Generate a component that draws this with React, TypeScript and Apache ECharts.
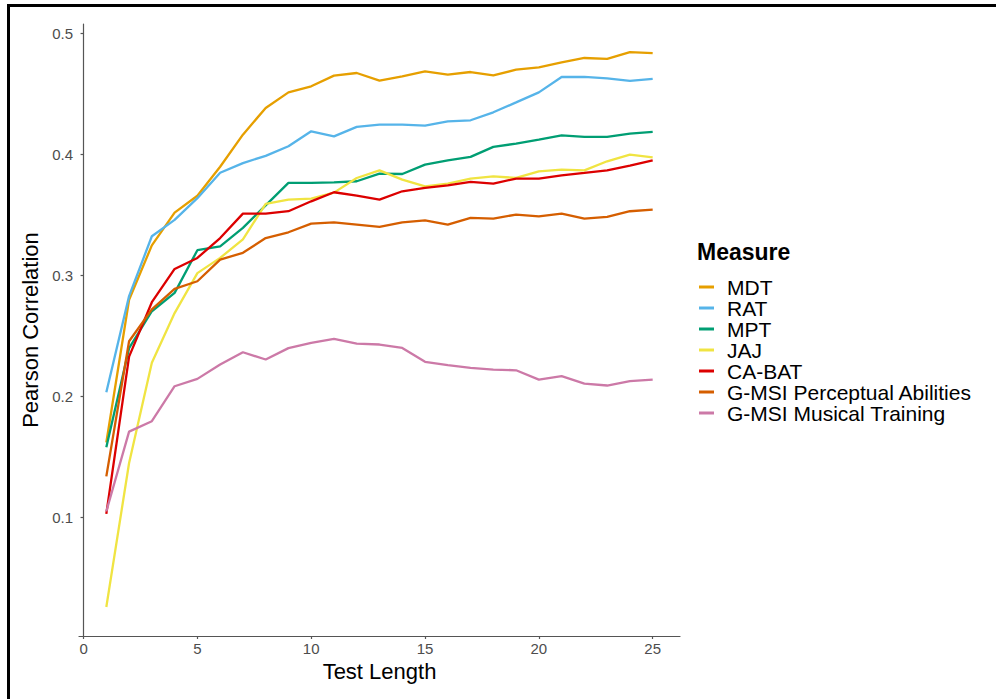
import React, { useEffect, useRef } from "react";
import * as echarts from "echarts";

const testLength = [1, 2, 3, 4, 5, 6, 7, 8, 9, 10, 11, 12, 13, 14, 15, 16, 17, 18, 19, 20, 21, 22, 23, 24, 25];

const measures = ["MDT", "RAT", "MPT", "JAJ", "CA-BAT", "G-MSI Perceptual Abilities", "G-MSI Musical Training"];
const colors = ["#E69F00", "#56B4E9", "#009E73", "#F0E442", "#DC0000", "#D55E00", "#CC79A7"];

const mdt = [0.162, 0.280, 0.325, 0.352, 0.366, 0.390, 0.4165, 0.4386, 0.4515, 0.4565, 0.4653, 0.4675, 0.4612, 0.4647, 0.4689, 0.4661, 0.4683, 0.4656, 0.4702, 0.4722, 0.4763, 0.4799, 0.4791, 0.4848, 0.484];
const rat = [0.2035, 0.283, 0.3325, 0.346, 0.364, 0.385, 0.393, 0.399, 0.4069, 0.4193, 0.4151, 0.4229, 0.4248, 0.4248, 0.424, 0.4275, 0.4284, 0.435, 0.4432, 0.4515, 0.4642, 0.4642, 0.4631, 0.4609, 0.4626];
const mpt = [0.158, 0.240, 0.2705, 0.2857, 0.321, 0.3242, 0.3394, 0.358, 0.3766, 0.3766, 0.3771, 0.378, 0.3843, 0.384, 0.3917, 0.3953, 0.3981, 0.4064, 0.4091, 0.4124, 0.416, 0.4146, 0.4146, 0.4174, 0.4188];
const jaj = [0.026, 0.145, 0.228, 0.269, 0.302, 0.3146, 0.330, 0.3592, 0.3628, 0.3636, 0.3686, 0.3807, 0.387, 0.3793, 0.3738, 0.376, 0.3802, 0.3821, 0.3807, 0.3862, 0.3876, 0.387, 0.3945, 0.400, 0.3978];
const cabat = [0.103, 0.233, 0.278, 0.3055, 0.3146, 0.331, 0.3512, 0.3512, 0.3532, 0.3614, 0.3689, 0.3661, 0.3628, 0.3697, 0.3725, 0.3745, 0.3774, 0.376, 0.3802, 0.3802, 0.3829, 0.3849, 0.387, 0.3909, 0.3953];
const gmsiPA = [0.134, 0.2457, 0.272, 0.289, 0.2953, 0.3132, 0.3188, 0.331, 0.3358, 0.343, 0.344, 0.3421, 0.3402, 0.344, 0.3457, 0.3421, 0.3477, 0.3471, 0.3504, 0.349, 0.3512, 0.3471, 0.3485, 0.3532, 0.3545];
const gmsiMT = [0.105, 0.171, 0.1796, 0.2085, 0.2146, 0.2264, 0.2366, 0.2306, 0.240, 0.2444, 0.2477, 0.2438, 0.243, 0.2402, 0.2287, 0.2259, 0.2237, 0.2223, 0.2217, 0.214, 0.2168, 0.2107, 0.2091, 0.2127, 0.214];

const allSeries = [mdt, rat, mpt, jaj, cabat, gmsiPA, gmsiMT];

const xTicks = [0, 5, 10, 15, 20, 25];
const yTicks = [0.1, 0.2, 0.3, 0.4, 0.5];

const FONT = "'Liberation Sans', Arial, sans-serif";

export default function App() {
  const ref = useRef<HTMLDivElement>(null);
  useEffect(() => {
    if (!ref.current) return;
    const chart = echarts.init(ref.current, null, { renderer: "svg" });
    const axisLineStyle = { color: "#555555", width: 1.2 };
    chart.setOption({
      animation: false,
      backgroundColor: "#ffffff",
      textStyle: { fontFamily: FONT },
      title: {
        text: "Measure",
        left: 697,
        top: 240,
        textStyle: { fontFamily: FONT, fontSize: 23, fontWeight: "bold", color: "#000000" },
        padding: 0,
      },
      legend: {
        orient: "vertical",
        left: 699,
        top: 276.5,
        itemGap: 0,
        itemWidth: 15,
        itemHeight: 3,
        icon: "rect",
        padding: 0,
        data: measures,
        textStyle: { fontFamily: FONT, fontSize: 21, color: "#000000", lineHeight: 21, padding: [0, 0, 0, 8] },
      },
      grid: { left: 79, right: 316, top: 24, bottom: 63, containLabel: false },
      xAxis: {
        type: "value",
        min: -0.2,
        max: 26.2,
        name: "Test Length",
        nameLocation: "middle",
        nameGap: 24,
        nameTextStyle: { fontFamily: FONT, fontSize: 22, color: "#000000" },
        axisLine: { show: true, lineStyle: axisLineStyle },
        axisTick: { show: true, length: 3, lineStyle: axisLineStyle, customValues: xTicks },
        axisLabel: { customValues: xTicks, fontSize: 15, color: "#4D4D4D", margin: 5, fontFamily: FONT },
        splitLine: { show: false },
      },
      yAxis: {
        type: "value",
        min: 0.002,
        max: 0.508,
        name: "Pearson Correlation",
        nameLocation: "middle",
        nameGap: 33,
        nameTextStyle: { fontFamily: FONT, fontSize: 22, color: "#000000" },
        axisLine: { show: true, lineStyle: axisLineStyle },
        axisTick: { show: true, length: 3, lineStyle: axisLineStyle, customValues: yTicks },
        axisLabel: { customValues: yTicks, fontSize: 15, color: "#4D4D4D", margin: 6, fontFamily: FONT, formatter: (v: number) => v.toFixed(1) },
        splitLine: { show: false },
      },
      graphic: [
        {
          type: "rect",
          shape: { x: 8.5, y: 5.5, width: 1100, height: 800 },
          style: { fill: "none", stroke: "#000000", lineWidth: 3 },
          silent: true,
        },
      ],
      series: measures.map((name, i) => ({
        name,
        type: "line",
        data: testLength.map((x, j) => [x, allSeries[i][j]]),
        showSymbol: false,
        symbol: "none",
        lineStyle: { color: colors[i], width: 2.3 },
        itemStyle: { color: colors[i] },
      })),
    });
    return () => chart.dispose();
  }, []);
  return <div ref={ref} style={{ position: "fixed", left: 0, top: 0, width: 996, height: 699 }} />;
}
